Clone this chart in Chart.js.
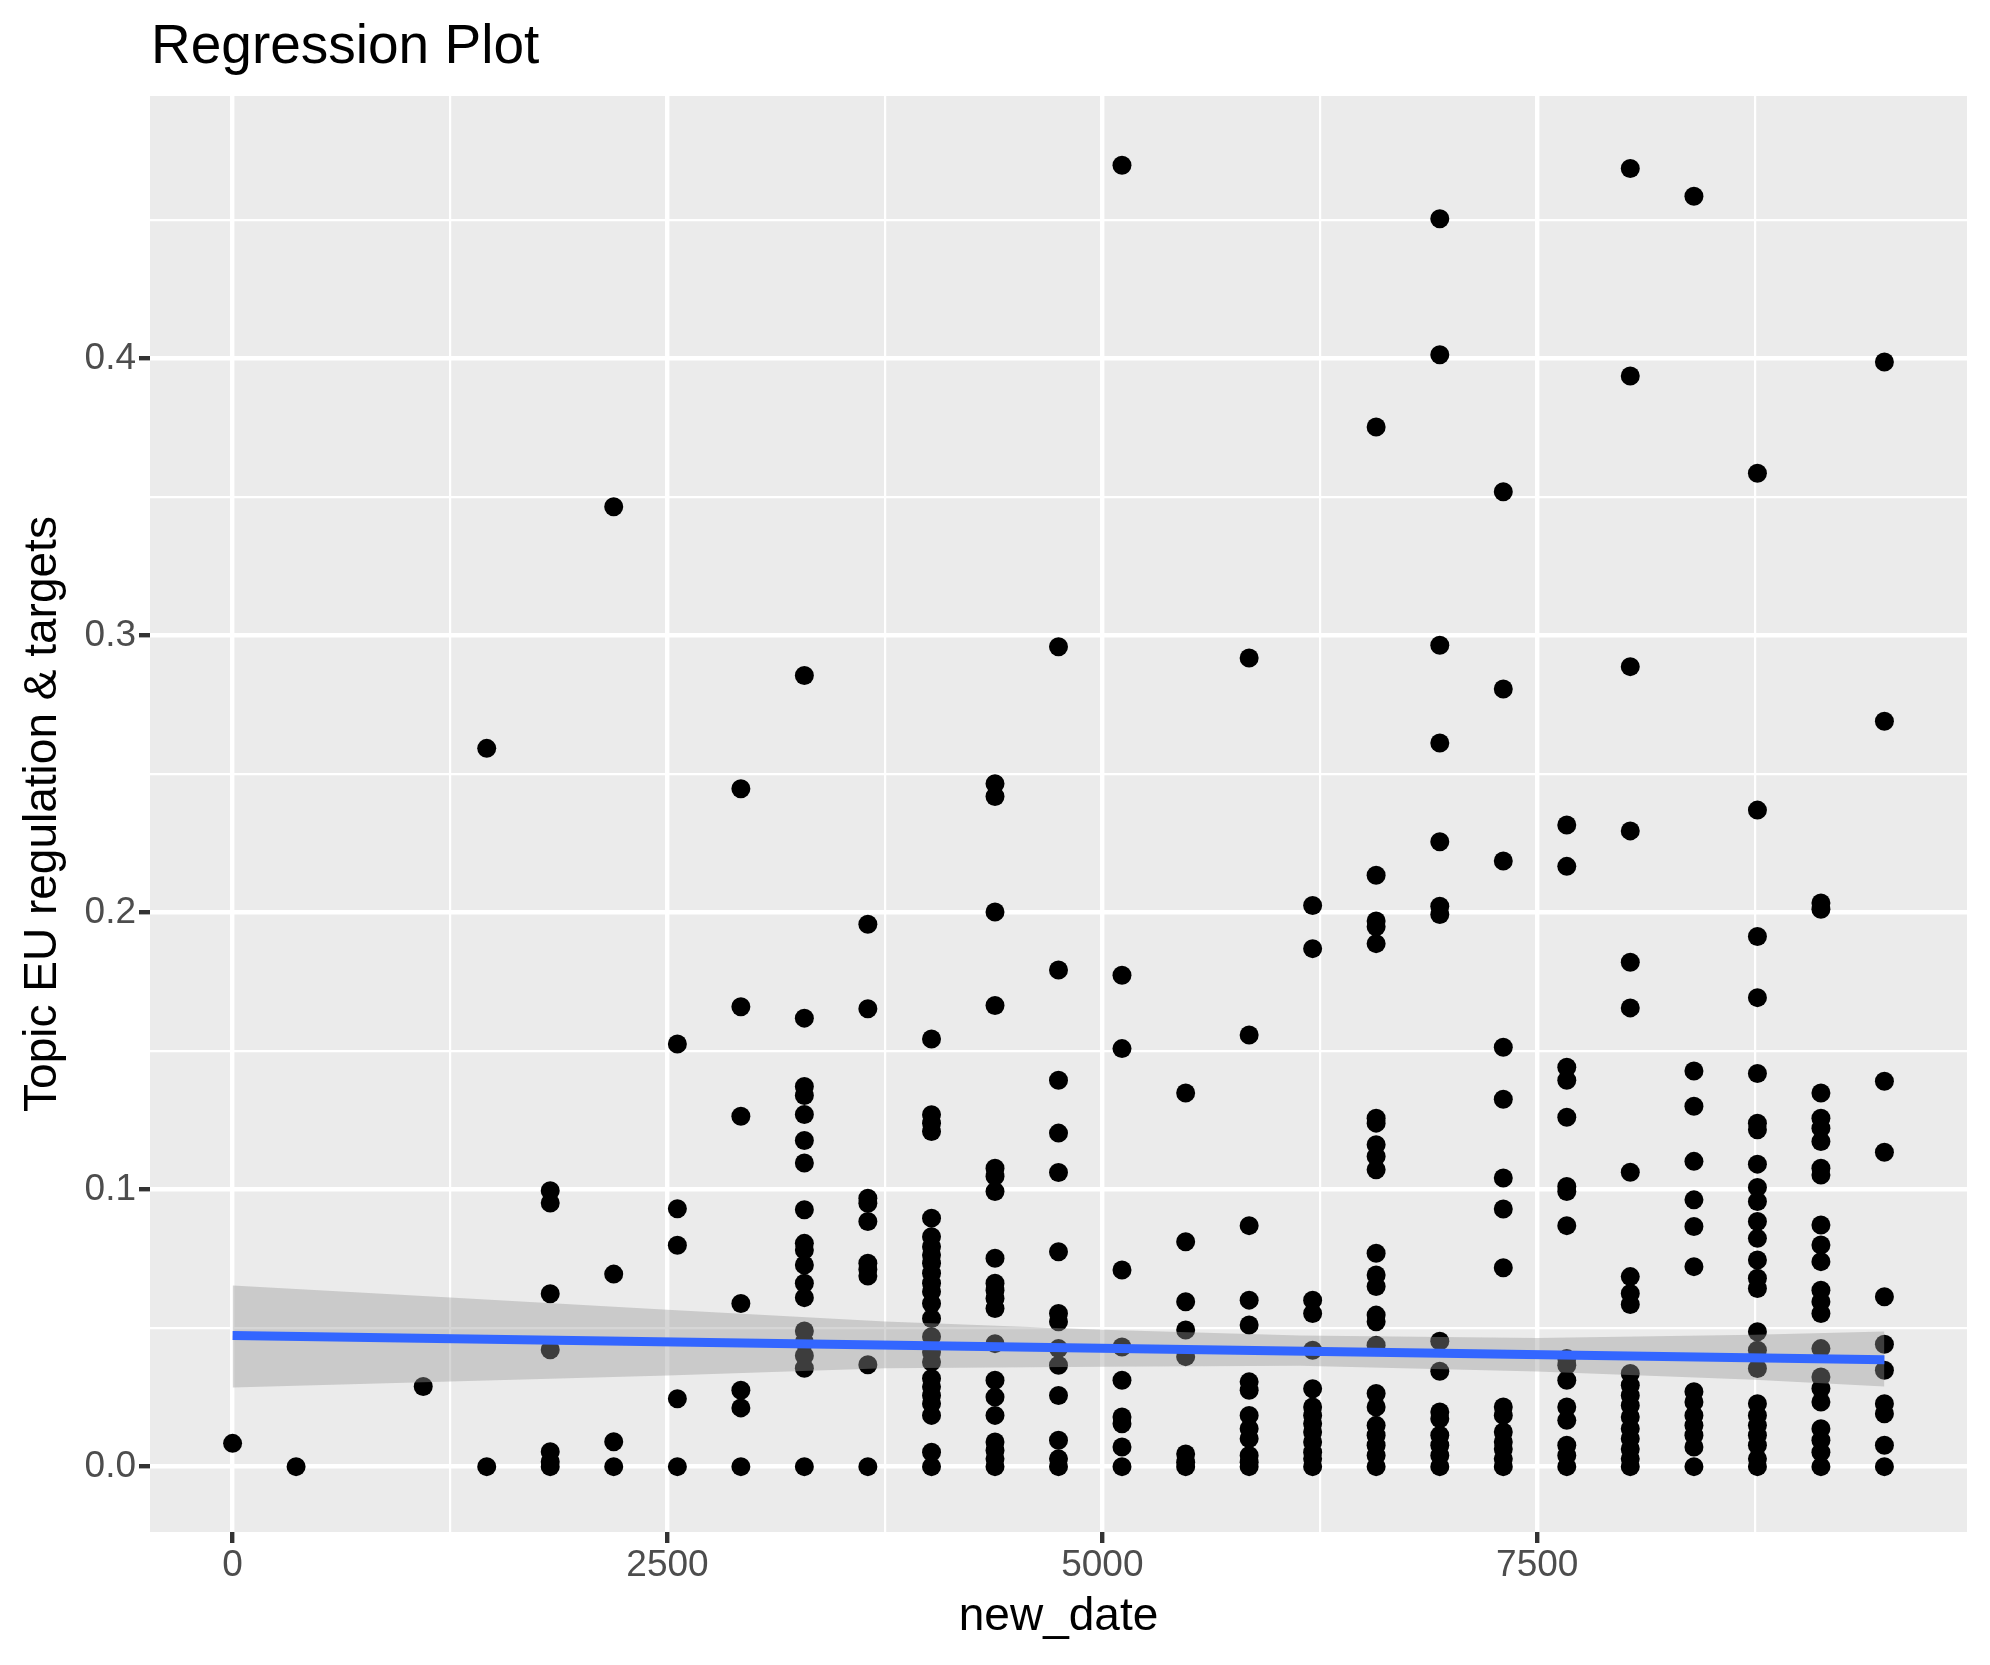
<!DOCTYPE html>
<html>
<head>
<meta charset="utf-8">
<title>Regression Plot</title>
<script src="https://cdn.jsdelivr.net/npm/chart.js@4.4.1/dist/chart.umd.min.js"></script>
<style>
  html, body { margin: 0; padding: 0; background: #ffffff; }
  #wrap { width: 1990px; height: 1665px; }
</style>
</head>
<body>
<div id="wrap"><canvas id="regChart" width="1990" height="1665"></canvas></div>
<script>
// values (one column of points per year)
const newDate = [0, 365, 1096, 1461, 1826, 2191, 2557, 2922, 3287, 3652, 4018, 4383, 4748,
  5113, 5479, 5844, 6209, 6574, 6940, 7305, 7670, 8035, 8401, 8766, 9131, 9496];

const topicShare = [
  [0.0084],
  [0],
  [0.0289],
  [0.2593, 0],
  [0.0996, 0.0952, 0.0624, 0.0422, 0.0054, 0.0018, 0],
  [0.3465, 0.0695, 0.009, 0],
  [0.1526, 0.0931, 0.0799, 0.0245, 0],
  [0.2447, 0.166, 0.1265, 0.0589, 0.0276, 0.0212, 0],
  [0.2856, 0.1619, 0.1372, 0.134, 0.1271, 0.1177, 0.1096, 0.0927, 0.0806, 0.0782, 0.0728, 0.0662, 0.061, 0.049, 0.045, 0.04, 0.0355, 0],
  [0.1958, 0.1653, 0.0969, 0.0951, 0.0885, 0.0734, 0.0712, 0.0688, 0.0368, 0],
  [0.1544, 0.127, 0.124, 0.121, 0.0897, 0.083, 0.0794, 0.0764, 0.0734, 0.0698, 0.0662, 0.0631, 0.0589, 0.0535, 0.0469, 0.0414, 0.0378, 0.0318, 0.0288, 0.0257, 0.0227, 0.0185, 0.0052, 0],
  [0.2465, 0.2419, 0.2002, 0.1665, 0.1077, 0.1048, 0.0993, 0.0752, 0.0662, 0.0637, 0.0607, 0.0571, 0.0444, 0.0312, 0.0251, 0.0185, 0.0089, 0.0058, 0.0028, 0],
  [0.296, 0.1793, 0.1395, 0.1204, 0.1062, 0.0776, 0.0553, 0.0523, 0.0426, 0.0366, 0.0257, 0.0095, 0.0028, 0],
  [0.4698, 0.1774, 0.1509, 0.071, 0.0432, 0.0312, 0.0179, 0.0155, 0.0071, 0],
  [0.1349, 0.0812, 0.0595, 0.0493, 0.0397, 0.0046, 0.0016, 0],
  [0.2919, 0.1558, 0.087, 0.0601, 0.0511, 0.0306, 0.0276, 0.0185, 0.0137, 0.0101, 0.004, 0.0016, 0],
  [0.2026, 0.187, 0.0601, 0.0553, 0.042, 0.0281, 0.0215, 0.0185, 0.0155, 0.0125, 0.0089, 0.0052, 0.0028, 0],
  [0.3753, 0.2135, 0.197, 0.1949, 0.1888, 0.1258, 0.124, 0.1162, 0.112, 0.1072, 0.077, 0.0692, 0.065, 0.0547, 0.0523, 0.0438, 0.0264, 0.0215, 0.0149, 0.0113, 0.0077, 0.004, 0],
  [0.4505, 0.4014, 0.2965, 0.2612, 0.2256, 0.2023, 0.1993, 0.0453, 0.0344, 0.0197, 0.0173, 0.0113, 0.0077, 0.004, 0],
  [0.3519, 0.2807, 0.2186, 0.1514, 0.1326, 0.1042, 0.093, 0.0718, 0.0215, 0.0185, 0.0125, 0.0089, 0.0064, 0.0028, 0],
  [0.2316, 0.2167, 0.1442, 0.1395, 0.1261, 0.1011, 0.0993, 0.087, 0.039, 0.0366, 0.0312, 0.0215, 0.0167, 0.0077, 0.004, 0],
  [0.4686, 0.3937, 0.2888, 0.2295, 0.1821, 0.1656, 0.1063, 0.0686, 0.0625, 0.0585, 0.0336, 0.0294, 0.0257, 0.0221, 0.0179, 0.0137, 0.0101, 0.0064, 0.0028, 0],
  [0.4586, 0.1428, 0.1301, 0.1102, 0.0963, 0.0867, 0.0722, 0.027, 0.0233, 0.0185, 0.0149, 0.0113, 0.0071, 0],
  [0.3586, 0.237, 0.1914, 0.1693, 0.1419, 0.124, 0.1216, 0.1092, 0.1008, 0.0957, 0.0885, 0.0824, 0.0746, 0.068, 0.0643, 0.0487, 0.042, 0.0354, 0.0227, 0.0185, 0.0149, 0.0113, 0.0077, 0.0028, 0],
  [0.2035, 0.2012, 0.1349, 0.1258, 0.1222, 0.1174, 0.1077, 0.1053, 0.0872, 0.08, 0.074, 0.0637, 0.0595, 0.0553, 0.0426, 0.0324, 0.0282, 0.0233, 0.0137, 0.0095, 0.0052, 0],
  [0.3988, 0.2691, 0.1391, 0.1135, 0.0613, 0.0442, 0.0348, 0.0227, 0.0191, 0.0077, 0]
];

// linear fit and its confidence band, read at a few dates
const fitDate = [0, 9496];
const fitValue = [0.0473, 0.0386];
const bandDate = [0, 1250, 2500, 3750, 5000, 6135, 7500, 8750, 9496];
const bandUpper = [0.0654, 0.0611, 0.0566, 0.0524, 0.0494, 0.0473, 0.0464, 0.0476, 0.0488];
const bandLower = [0.0286, 0.0307, 0.0329, 0.0355, 0.0361, 0.0364, 0.0343, 0.0314, 0.0289];

// axis ticks
const xMajor = [0, 2500, 5000, 7500];
const xMinor = [1250, 3750, 6250, 8750];
const yMajor = [0, 0.1, 0.2, 0.3, 0.4];
const yMinor = [0.05, 0.15, 0.25, 0.35, 0.45];
const yTickLabels = ["0.0", "0.1", "0.2", "0.3", "0.4"];

const points = [];
newDate.forEach((d, i) => {
  topicShare[i].forEach(v => points.push({ x: d, y: v }));
});
const toXY = (xs, ys) => xs.map((x, i) => ({ x: x, y: ys[i] }));

const near = (a, b) => Math.abs(a - b) < 1e-9;
const isMajor = (list, v) => list.some(m => near(m, v));
const allTicks = (a, b) => a.concat(b).sort((p, q) => p - q).map(v => ({ value: v }));

// ggplot-like title drawn at the panel's left edge
const plotTitle = {
  id: "plotTitle",
  afterDraw(chart) {
    const ctx = chart.ctx;
    ctx.save();
    ctx.font = '55px "Liberation Sans", Arial, sans-serif';
    ctx.fillStyle = "#000000";
    ctx.textBaseline = "alphabetic";
    ctx.textAlign = "left";
    ctx.fillText("Regression Plot", chart.chartArea.left + 1, 63);
    ctx.restore();
  }
};

// panel background
const panelBg = {
  id: "panelBg",
  beforeDraw(chart) {
    const { ctx, chartArea: a } = chart;
    ctx.save();
    ctx.fillStyle = "#EBEBEB";
    ctx.fillRect(a.left, a.top, a.right - a.left, a.bottom - a.top);
    ctx.restore();
  }
};

const ctx = document.getElementById("regChart").getContext("2d");
new Chart(ctx, {
  type: "scatter",
  data: {
    datasets: [
      {
        label: "points",
        data: points,
        pointRadius: 9.5,
        pointHoverRadius: 9.5,
        pointBorderWidth: 0,
        pointBackgroundColor: "#000000",
        order: 3
      },
      {
        type: "line",
        label: "upper",
        data: toXY(bandDate, bandUpper),
        borderWidth: 0,
        borderColor: "rgba(0,0,0,0)",
        pointRadius: 0,
        backgroundColor: "rgba(153,153,153,0.4)",
        fill: "+1",
        tension: 0,
        order: 2
      },
      {
        type: "line",
        label: "lower",
        data: toXY(bandDate, bandLower),
        borderWidth: 0,
        borderColor: "rgba(0,0,0,0)",
        pointRadius: 0,
        fill: false,
        tension: 0,
        order: 2
      },
      {
        type: "line",
        label: "fit",
        data: toXY(fitDate, fitValue),
        borderColor: "#3366FF",
        borderWidth: 9,
        pointRadius: 0,
        fill: false,
        order: 1
      }
    ]
  },
  options: {
    responsive: false,
    animation: false,
    devicePixelRatio: 1,
    layout: { padding: { top: 96, right: 23, left: 0, bottom: 0 } },
    plugins: {
      legend: { display: false },
      tooltip: { enabled: false },
      title: { display: false }
    },
    scales: {
      x: {
        type: "linear",
        min: -474.8,
        max: 9970.8,
        afterFit: (scale) => { scale.height = 133; },
        afterBuildTicks: (axis) => { axis.ticks = allTicks(xMajor, xMinor); },
        border: { display: false },
        grid: {
          color: "#FFFFFF",
          lineWidth: (c) => isMajor(xMajor, c.tick.value) ? 4.4 : 2.2,
          drawTicks: true,
          tickLength: 11,
          tickWidth: 4.4,
          tickColor: (c) => isMajor(xMajor, c.tick.value) ? "#333333" : "rgba(0,0,0,0)"
        },
        ticks: {
          autoSkip: false,
          maxRotation: 0,
          padding: 1,
          color: "#4D4D4D",
          font: { family: '"Liberation Sans", Arial, sans-serif', size: 37 },
          callback: (v) => isMajor(xMajor, v) ? String(v) : ""
        },
        title: {
          display: true,
          text: "new_date",
          color: "#000000",
          font: { family: '"Liberation Sans", Arial, sans-serif', size: 46 },
          padding: { top: 0, bottom: 20 }
        }
      },
      y: {
        type: "linear",
        min: -0.0236,
        max: 0.4948,
        afterFit: (scale) => { scale.width = 150; },
        afterBuildTicks: (axis) => { axis.ticks = allTicks(yMajor, yMinor); },
        border: { display: false },
        grid: {
          color: "#FFFFFF",
          lineWidth: (c) => isMajor(yMajor, c.tick.value) ? 4.4 : 2.2,
          drawTicks: true,
          tickLength: 11,
          tickWidth: 4.4,
          tickColor: (c) => isMajor(yMajor, c.tick.value) ? "#333333" : "rgba(0,0,0,0)"
        },
        ticks: {
          autoSkip: false,
          padding: 3,
          color: "#4D4D4D",
          font: { family: '"Liberation Sans", Arial, sans-serif', size: 37 },
          callback: (v) => {
            const i = yMajor.findIndex(m => near(m, v));
            return i >= 0 ? yTickLabels[i] : "";
          }
        },
        title: {
          display: true,
          text: "Topic EU regulation & targets",
          color: "#000000",
          font: { family: '"Liberation Sans", Arial, sans-serif', size: 46 },
          padding: { top: 16, bottom: 0 }
        }
      }
    }
  },
  plugins: [panelBg, plotTitle]
});
</script>
</body>
</html>
